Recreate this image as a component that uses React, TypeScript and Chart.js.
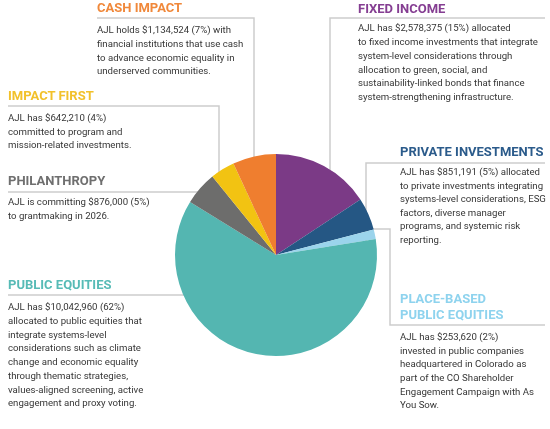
import React, { useEffect, useRef } from "react";
import { Chart, registerables, Plugin } from "chart.js";

Chart.register(...registerables);

// Portfolio allocation, clockwise from 12 o'clock
const categories = [
  "Fixed Income",
  "Private Investments",
  "Place-Based Public Equities",
  "Public Equities",
  "Philanthropy",
  "Impact First",
  "Cash Impact",
];
const amounts = [2578375, 851191, 253620, 10042960, 876000, 642210, 1134524];
const percents = [15, 5, 2, 62, 5, 4, 7];
const sliceColors = ["#7B3A86", "#255784", "#9BD4EC", "#54B6B1", "#6D6D6C", "#F2C312", "#EF7E2F"];
const titleColors = ["#853E92", "#2B5B8B", "#8ED3EE", "#57BBB6", "#6F6F6F", "#F2C12B", "#F0883A"];

const titles: string[][] = [
  ["FIXED INCOME"],
  ["PRIVATE INVESTMENTS"],
  ["PLACE-BASED", "PUBLIC EQUITIES"],
  ["PUBLIC EQUITIES"],
  ["PHILANTHROPY"],
  ["IMPACT FIRST"],
  ["CASH IMPACT"],
];

const money = (v: number) => "$" + v.toLocaleString("en-US");
const lead = (i: number, verb: string) => `AJL ${verb} ${money(amounts[i])} (${percents[i]}%)`;

const descriptions: string[][] = [
  [
    lead(0, "has") + " allocated",
    "to fixed income investments that integrate",
    "system-level considerations through",
    "allocation to green, social, and",
    "sustainability-linked bonds that finance",
    "system-strengthening infrastructure.",
  ],
  [
    lead(1, "has") + " allocated",
    "to private investments integrating",
    "systems-level considerations, ESG",
    "factors, diverse manager",
    "programs, and systemic risk",
    "reporting.",
  ],
  [
    lead(2, "has"),
    "invested in public companies",
    "headquartered in Colorado as",
    "part of the CO Shareholder",
    "Engagement Campaign with As",
    "You Sow.",
  ],
  [
    lead(3, "has"),
    "allocated to public equities that",
    "integrate systems-level",
    "considerations such as climate",
    "change and economic equality",
    "through thematic strategies,",
    "values-aligned screening, active",
    "engagement and proxy voting.",
  ],
  [lead(4, "is committing"), "to grantmaking in 2026."],
  [lead(5, "has"), "committed to program and", "mission-related investments."],
  [
    lead(6, "holds") + " with",
    "financial institutions that use cash",
    "to advance economic equality in",
    "underserved communities.",
  ],
];

// Annotation placement (title top, body top, left edge) per category
const blockLayout = [
  { x: 358, titleTop: 0.7, bodyTop: 21.3, lh: 13.8 },
  { x: 400, titleTop: 143.6, bodyTop: 165.3, lh: 13.5 },
  { x: 400, titleTop: 291, bodyTop: 330.3, lh: 13.6 },
  { x: 8, titleTop: 276.6, bodyTop: 300.3, lh: 13.7 },
  { x: 8, titleTop: 172.6, bodyTop: 195.3, lh: 13.8 },
  { x: 8, titleTop: 87.6, bodyTop: 111.3, lh: 13.5 },
  { x: 97, titleTop: 0, bodyTop: 23.3, lh: 13.7 },
];

// Leader lines, drawn beneath the pie so they stop at its edge
const leaderLines: number[][][] = [
  [[545, 18], [330, 18], [330, 255]],
  [[545, 163], [366, 163], [366, 255]],
  [[276, 229], [390, 229], [390, 325], [545, 325]],
  [[8, 295], [276, 295]],
  [[8, 192], [276, 192]],
  [[8, 106], [219, 106], [219, 255]],
  [[97, 18], [254, 18], [254, 255]],
];

const leaderPlugin: Plugin = {
  id: "leaders",
  beforeDatasetsDraw(chart) {
    const ctx = chart.ctx;
    ctx.save();
    ctx.strokeStyle = "#cdcdcd";
    ctx.lineWidth = 1.5;
    for (const pts of leaderLines) {
      ctx.beginPath();
      pts.forEach(([x, y], k) => (k === 0 ? ctx.moveTo(x, y) : ctx.lineTo(x, y)));
      ctx.stroke();
    }
    ctx.restore();
  },
};

export default function App() {
  const canvasRef = useRef<HTMLCanvasElement>(null);

  useEffect(() => {
    if (!canvasRef.current) return;
    const chart = new Chart(canvasRef.current, {
      type: "pie",
      data: {
        labels: categories,
        datasets: [
          {
            data: amounts,
            backgroundColor: sliceColors,
            borderWidth: 0,
          },
        ],
      },
      options: {
        responsive: false,
        animation: false,
        events: [],
        layout: { padding: { left: 175, right: 173, top: 154, bottom: 73 } },
        plugins: {
          legend: { display: false },
          tooltip: { enabled: false },
        },
      },
      plugins: [leaderPlugin],
    });
    return () => chart.destroy();
  }, []);

  return (
    <div
      style={{
        position: "absolute",
        left: 0,
        top: 0,
        width: 550,
        height: 429,
        background: "#ffffff",
        overflow: "hidden",
        fontFamily: "Roboto, 'Noto Sans', sans-serif",
      }}
    >
      <canvas ref={canvasRef} width={550} height={429} style={{ position: "absolute", left: 0, top: 0 }} />
      {categories.map((c, i) => {
        const b = blockLayout[i];
        return (
          <React.Fragment key={c}>
            <div
              style={{
                position: "absolute",
                left: b.x,
                top: b.titleTop,
                color: titleColors[i],
                fontWeight: 700,
                fontSize: 13,
                lineHeight: "15.5px",
                whiteSpace: "nowrap",
              }}
            >
              {titles[i].map((t) => (
                <div key={t}>{t}</div>
              ))}
            </div>
            <div
              style={{
                position: "absolute",
                left: b.x,
                top: b.bodyTop,
                color: "#363636",
                fontSize: 9.65,
                lineHeight: `${b.lh}px`,
                whiteSpace: "nowrap",
              }}
            >
              {descriptions[i].map((t) => (
                <div key={t}>{t}</div>
              ))}
            </div>
          </React.Fragment>
        );
      })}
    </div>
  );
}
